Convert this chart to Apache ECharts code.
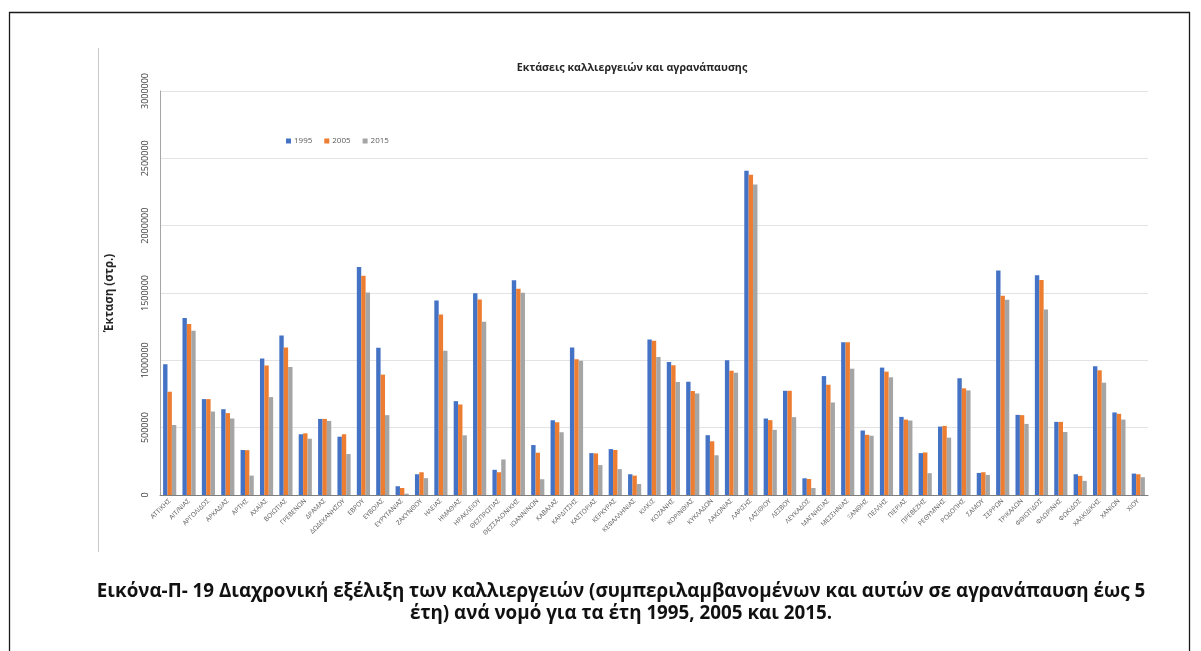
<!DOCTYPE html>
<html>
<head>
<meta charset="utf-8">
<script src="https://cdn.jsdelivr.net/npm/echarts@6/dist/echarts.min.js"></script>
<style>
html,body{margin:0;padding:0;background:#fff;}
#chart{width:1201px;height:651px;}
</style>
</head>
<body>
<div id="chart"></div>
<script>
const categories = ["ΑΤΤΙΚΗΣ","ΑΙΤ/ΝΙΑΣ","ΑΡΓΟΛΙΔΟΣ","ΑΡΚΑΔΙΑΣ","ΑΡΤΗΣ","ΑΧΑΪΑΣ","ΒΟΙΩΤΙΑΣ","ΓΡΕΒΕΝΩΝ","ΔΡΑΜΑΣ","ΔΩΔΕΚΑΝΗΣΟΥ","ΕΒΡΟΥ","ΕΥΒΟΙΑΣ","ΕΥΡΥΤΑΝΙΑΣ","ΖΑΚΥΝΘΟΥ","ΗΛΕΙΑΣ","ΗΜΑΘΙΑΣ","ΗΡΑΚΛΕΙΟΥ","ΘΕΣΠΡΩΤΙΑΣ","ΘΕΣΣΑΛΟΝΙΚΗΣ","ΙΩΑΝΝΙΝΩΝ","ΚΑΒΑΛΑΣ","ΚΑΡΔΙΤΣΗΣ","ΚΑΣΤΟΡΙΑΣ","ΚΕΡΚΥΡΑΣ","ΚΕΦΑΛΛΗΝΙΑΣ","ΚΙΛΚΙΣ","ΚΟΖΑΝΗΣ","ΚΟΡΙΝΘΙΑΣ","ΚΥΚΛΑΔΩΝ","ΛΑΚΩΝΙΑΣ","ΛΑΡΙΣΗΣ","ΛΑΣΙΘΙΟΥ","ΛΕΣΒΟΥ","ΛΕΥΚΑΔΟΣ","ΜΑΓΝΗΣΙΑΣ","ΜΕΣΣΗΝΙΑΣ","ΞΑΝΘΗΣ","ΠΕΛΛΗΣ","ΠΙΕΡΙΑΣ","ΠΡΕΒΕΖΗΣ","ΡΕΘΥΜΝΗΣ","ΡΟΔΟΠΗΣ","ΣΑΜΟΥ","ΣΕΡΡΩΝ","ΤΡΙΚΑΛΩΝ","ΦΘΙΩΤΙΔΟΣ","ΦΛΩΡΙΝΗΣ","ΦΩΚΙΔΟΣ","ΧΑΛΚΙΔΙΚΗΣ","ΧΑΝΙΩΝ","ΧΙΟΥ"];

const values1995 = [971000,1315000,712000,637000,334000,1013000,1185000,451000,565000,433000,1693000,1093000,65000,154000,1444000,697000,1499000,187000,1594000,371000,555000,1096000,311000,341000,154000,1154000,987000,841000,444000,1000000,2407000,568000,774000,124000,883000,1134000,479000,946000,580000,311000,508000,867000,164000,1668000,595000,1631000,543000,154000,956000,613000,159000];

const values2005 = [767000,1270000,712000,608000,333000,961000,1096000,458000,565000,451000,1628000,894000,52000,169000,1340000,672000,1452000,169000,1531000,314000,540000,1008000,309000,334000,144000,1146000,963000,772000,399000,923000,2379000,556000,774000,119000,819000,1134000,447000,916000,560000,316000,513000,792000,169000,1479000,593000,1596000,543000,142000,926000,603000,154000];

const values2015 = [520000,1220000,620000,568000,144000,727000,951000,418000,550000,304000,1504000,593000,10000,125000,1071000,443000,1287000,264000,1501000,117000,466000,996000,222000,192000,82000,1025000,839000,754000,295000,908000,2305000,484000,578000,52000,687000,938000,440000,874000,553000,162000,426000,777000,149000,1449000,528000,1377000,468000,105000,834000,560000,132000];

const seriesNames = ["1995","2005","2015"];
const yTicks = [0,500000,1000000,1500000,2000000,2500000,3000000];

const colors = ["#4472C4","#ED7D31","#A5A5A5"];
const chart = echarts.init(document.getElementById('chart'), null, {renderer:'canvas'});
const data = [values1995, values2005, values2015];

const option = {
  animation: false,
  color: colors,
  legend: {
    left: 281, top: 132,
    itemWidth: 5, itemHeight: 5, itemGap: 12,
    icon: 'rect',
    textStyle: {fontSize: 8, color: '#595959', fontFamily: 'Open Sans', padding:[0,0,0,-2]},
    data: seriesNames
  },
  grid: {left: 160, right: 53, top: 91, bottom: 156, containLabel: false},
  xAxis: {
    type: 'category',
    data: categories,
    axisLine: {lineStyle: {color: '#7F7F7F', width: 1}},
    axisTick: {show: false},
    axisLabel: {
      interval: 0, rotate: 45, fontSize: 6.5, color: '#595959',
      fontFamily: 'Open Sans', margin: 5
    }
  },
  yAxis: {
    type: 'value',
    min: yTicks[0], max: yTicks[yTicks.length-1], interval: 500000,
    name: 'Έκταση (στρ.)',
    nameLocation: 'middle', nameGap: 44, nameRotate: 90,
    nameTextStyle: {fontSize: 11.5, fontWeight: 'bold', color: '#262626', fontFamily: 'Open Sans'},
    axisLine: {show: true, lineStyle: {color: '#A6A6A6'}},
    axisTick: {show: false},
    axisLabel: {rotate: 90, fontSize: 9, color: '#404040', fontFamily: 'Open Sans', margin: 10,
      formatter: v => String(v)},
    splitLine: {lineStyle: {color: '#E3E3E3', width: 1}}
  },
  series: seriesNames.map((n, i) => ({
    name: n, type: 'bar', data: data[i],
    barGap: '0%', barCategoryGap: '32%'
  })),
  graphic: [
    {type: 'rect', shape: {x: 9.5, y: 12.5, width: 1180, height: 700}, style: {fill: 'none', stroke: '#1a1a1a', lineWidth: 1.3}, silent: true},
    {type: 'line', shape: {x1: 98.5, y1: 48, x2: 98.5, y2: 552}, style: {stroke: '#C8C8C8', lineWidth: 1}, silent: true},
    {type: 'text', x: 632, y: 68, style: {text: 'Εκτάσεις καλλιεργειών και αγρανάπαυσης', fill: '#262626', font: 'bold 10.7px "Open Sans"', align: 'center', verticalAlign: 'middle'}},
    {type: 'text', x: 621, y: 592, style: {text: 'Εικόνα-Π- 19 Διαχρονική εξέλιξη των καλλιεργειών (συμπεριλαμβανομένων και αυτών σε αγρανάπαυση έως 5', fill: '#111', font: 'bold 18.8px "Open Sans"', align: 'center', verticalAlign: 'middle'}},
    {type: 'text', x: 621, y: 614, style: {text: 'έτη) ανά νομό για τα έτη 1995, 2005 και 2015.', fill: '#111', font: 'bold 18.8px "Open Sans"', align: 'center', verticalAlign: 'middle'}}
  ]
};
chart.setOption(option);
</script>
</body>
</html>
